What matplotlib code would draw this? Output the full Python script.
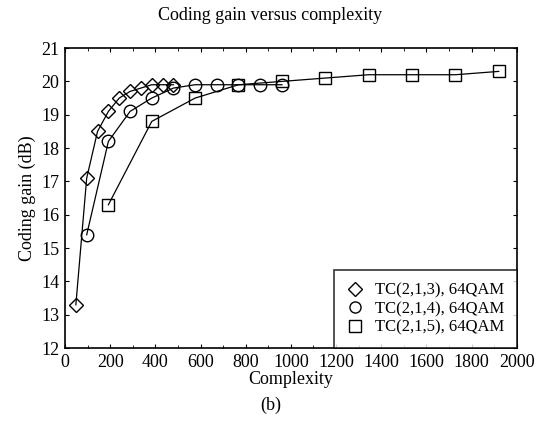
import matplotlib
matplotlib.use("Agg")
import matplotlib.pyplot as plt
from matplotlib.ticker import MultipleLocator
from matplotlib.lines import Line2D

plt.rcParams['font.family'] = ['Liberation Serif', 'DejaVu Serif']

# Complexity values and coding gains (dB) for each trellis code
x_tc213 = [48, 96, 144, 192, 240, 288, 336, 384, 432, 480]
y_tc213 = [13.3, 17.1, 18.5, 19.1, 19.5, 19.7, 19.8, 19.9, 19.9, 19.9]

x_tc214 = [96, 192, 288, 384, 480, 576, 672, 768, 864, 960]
y_tc214 = [15.4, 18.2, 19.1, 19.5, 19.8, 19.9, 19.9, 19.9, 19.9, 19.9]

x_tc215 = [192, 384, 576, 768, 960, 1152, 1344, 1536, 1728, 1920]
y_tc215 = [16.3, 18.8, 19.5, 19.9, 20.0, 20.1, 20.2, 20.2, 20.2, 20.3]

labels = ["TC(2,1,3), 64QAM", "TC(2,1,4), 64QAM", "TC(2,1,5), 64QAM"]

fig = plt.figure(figsize=(5.44, 4.33), dpi=100)
ax = fig.add_axes([0.1195, 0.196, 0.8305, 0.693])

style = dict(color='black', lw=0.9, markerfacecolor='none',
             markeredgecolor='black', markeredgewidth=1.0)
ax.plot(x_tc213, y_tc213, marker='D', markersize=7.5, **style)
ax.plot(x_tc214, y_tc214, marker='o', markersize=9, **style)
ax.plot(x_tc215, y_tc215, marker='s', markersize=9, **style)

ax.set_xlim(0, 2000)
ax.set_ylim(12, 21)
ax.xaxis.set_major_locator(MultipleLocator(200))
ax.xaxis.set_minor_locator(MultipleLocator(100))
ax.yaxis.set_major_locator(MultipleLocator(1))
ax.tick_params(which='both', direction='in', top=True, right=True,
               labelsize=13, pad=4)
ax.tick_params(which='major', length=3)
ax.tick_params(which='minor', length=2)
for s in ax.spines.values():
    s.set_linewidth(1.2)

ax.set_xlabel("Complexity", fontsize=13, labelpad=0)
ax.set_ylabel("Coding gain (dB)", fontsize=13, labelpad=4)
fig.text(0.497, 0.965, "Coding gain versus complexity", ha='center',
         va='center', fontsize=13)
fig.text(0.497, 0.065, "(b)", ha='center', va='center', fontsize=13)

# Legend shows the markers alone
mk = dict(color='none', markerfacecolor='none', markeredgecolor='black',
          markeredgewidth=1.0, linestyle='none')
handles = [Line2D([], [], marker='D', markersize=7, **mk),
           Line2D([], [], marker='o', markersize=8, **mk),
           Line2D([], [], marker='s', markersize=8, **mk)]
leg = ax.legend(handles, labels, loc='lower right', frameon=True,
                fancybox=False, edgecolor='black', fontsize=12,
                borderaxespad=0, handlelength=1.0, handletextpad=0.7,
                labelspacing=0.15, borderpad=0.75)
leg.get_frame().set_linewidth(1.2)

fig.savefig("out.png", dpi=100, facecolor='white')
